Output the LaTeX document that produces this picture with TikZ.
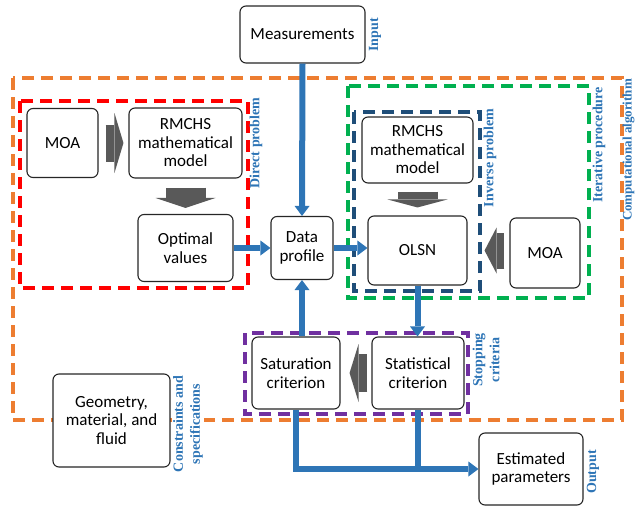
\documentclass[tikz,border=0pt]{standalone}
\usepackage{fontspec}
\setmainfont{Carlito}
\newfontfamily\labelfont{Liberation Serif}
\usetikzlibrary{arrows.meta}
\definecolor{labblue}{HTML}{2E75B6}
\definecolor{flowblue}{HTML}{2E75B6}
\definecolor{fatgray}{HTML}{595959}
\definecolor{algorange}{HTML}{ED7D31}
\definecolor{dirred}{HTML}{FF0000}
\definecolor{itergreen}{HTML}{00B050}
\definecolor{invblue}{HTML}{1F4E79}
\definecolor{stoppurple}{HTML}{7030A0}
\tikzset{
  box/.style={draw=black!85, line width=1.1pt, rounded corners=6pt, fill=white,
    align=center, inner sep=2pt, font=\fontsize{17}{18.5}\selectfont},
  tag/.style={rotate=90, text=labblue, align=center, inner sep=1pt,
    font=\labelfont\bfseries\fontsize{14}{17}\selectfont},
  frame/.style={line width=3.2pt, dash pattern=on 12pt off 7pt},
  flow/.style={draw=flowblue, line width=6pt,
    -{Triangle[length=10pt,width=15pt,line width=0pt]}},
  fat/.style args={#1/#2/#3}{draw=fatgray, line width=#1,
    -{Triangle[length=#2,width=#3,line width=0pt]}}
}
\begin{document}
\begin{tikzpicture}[x=1pt,y=-1pt]
\useasboundingbox (0,0) rectangle (635,506);

% dashed groups
\draw[frame,algorange] (13,78) rectangle (622,420);
\draw[frame,dirred] (20,101) rectangle (248,288);
\draw[frame,itergreen] (348,86) rectangle (589,298);
\draw[frame,invblue] (354,112) rectangle (480,291);
\draw[frame,stoppurple] (245,333) rectangle (468,414);

% blocks
\node[box, minimum width=125pt, minimum height=57pt] (meas) at (302.5,34.5) {Measurements};
\node[box, minimum width=71pt, minimum height=69pt] (moaL) at (62.5,143) {MOA};
\node[box, minimum width=113pt, minimum height=70pt] (rmL) at (185.5,143) {RMCHS\\mathematical\\model};
\node[box, minimum width=95pt, minimum height=67pt] (optv) at (185.5,248) {Optimal\\values};
\node[box, minimum width=62pt, minimum height=63pt] (data) at (302,248) {Data\\profile};
\node[box, minimum width=111pt, minimum height=66pt] (rmR) at (417.5,150) {RMCHS\\mathematical\\model};
\node[box, minimum width=99pt, minimum height=69pt] (olsn) at (417.5,250.5) {OLSN};
\node[box, minimum width=70pt, minimum height=70pt] (moaR) at (545,253) {MOA};
\node[box, minimum width=88pt, minimum height=72pt] (sat) at (296,373) {Saturation\\criterion};
\node[box, minimum width=92pt, minimum height=72pt] (stat) at (418,373) {Statistical\\criterion};
\node[box, minimum width=117pt, minimum height=93pt] (geo) at (111.5,420.5) {Geometry,\\material, and\\fluid};
\node[box, minimum width=104pt, minimum height=72pt] (est) at (531,469) {Estimated\\parameters};

% labels
\node[tag] (tinput) at (375,35) {Input};
\node[tag] (tdirect) at (256,143) {Direct problem};
\node[tag] (tinverse) at (490,158) {Inverse problem};
\node[tag] (titer) at (599,145) {Iterative procedure};
\node[tag, font=\labelfont\bfseries\fontsize{13}{15}\selectfont] (talg) at (628.5,150) {Computational algorithm};
\node[tag] (tstop) at (486,360) {Stopping\\criteria};
\node[tag, fill=white] (tcons) at (188,424) {Constraints and\\specifications};
\node[tag] (toutput) at (593,472) {Output};

% gray block arrows
\draw[fat=37pt/9pt/60pt, shorten <=7pt, shorten >=5pt] (moaL.east) -- (moaL.east -| rmL.west);
\draw[fat=40pt/10pt/60pt, shorten <=9pt, shorten >=6pt] (rmL.south) -- (optv.north);
\draw[fat=40pt/8pt/60pt, shorten <=8pt, shorten >=8pt] (rmR.south) -- (olsn.north);
\draw[fat=36pt/12pt/46pt, shorten <=5pt, shorten >=17pt] (olsn.east -| moaR.west) -- (olsn.east);
\draw[fat=38pt/9pt/58pt, shorten <=4pt, shorten >=9pt] (stat.west) -- (sat.east);

% blue flow
\draw[flow] (meas.south) -- (data.north);
\draw[flow] (optv.east) -- (data.west);
\draw[flow] (data.east) -- (data.east -| olsn.west);
\draw[flow] (olsn.south) -- (olsn.south |- stat.north);
\draw[flow] (data.south |- sat.north) -- (data.south);
\draw[flow] (sat.south) |- (est.west);
\draw[flowblue, line width=6pt] (stat.south) -- (stat.south |- est.west);

\end{tikzpicture}
\end{document}
